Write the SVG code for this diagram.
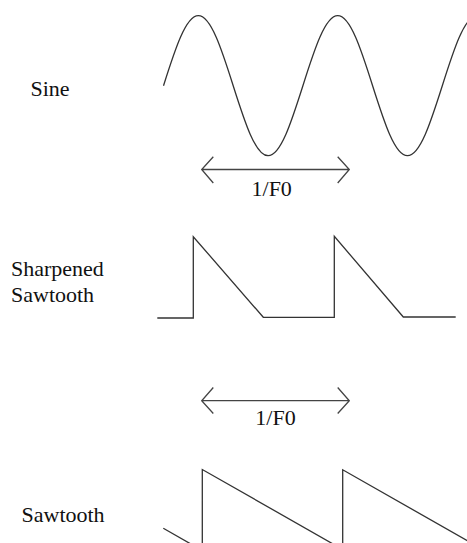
<svg xmlns="http://www.w3.org/2000/svg" width="467" height="543" viewBox="0 0 467 543">
<style>
.lbl{font-family:"Liberation Serif","Times New Roman",serif;font-size:22px;fill:#111}
.wave{fill:none;stroke:#333;stroke-width:1.3;stroke-linejoin:miter}
.arr{fill:none;stroke:#444;stroke-width:1.3}
</style>
<rect width="467" height="543" fill="#fff"/>
<g id="sine">
<text class="lbl" x="30.5" y="96">Sine</text>
<path class="wave" d="M163.5,85.7 C174.87,49.84 185.74,15.7 198.35,15.7 C210.96,15.7 221.83,49.84 233.2,85.7 C244.57,121.56 255.44,155.7 268.05,155.7 C280.66,155.7 291.53,121.56 302.9,85.7 C314.27,49.84 325.14,15.7 337.75,15.7 C350.36,15.7 361.23,49.84 372.6,85.7 C383.97,121.56 394.84,155.7 407.45,155.7 C420.06,155.7 430.93,121.56 442.3,85.7 C453.67,49.84 464.54,15.7 477.15,15.7"/>
</g>
<g id="sharpened-sawtooth">
<text class="lbl" x="11" y="276">Sharpened</text>
<text class="lbl" x="11" y="302">Sawtooth</text>
<path class="wave" d="M157.3,318 L193.3,318 L193.3,236.7 L263.3,317.3 L334.3,317.3 L334.3,236.3 L403.3,317 L455.7,317"/>
</g>
<g id="sawtooth">
<text class="lbl" x="21.5" y="522">Sawtooth</text>
<path class="wave" d="M163.3,528.3 L202.3,550.5 L202.3,469.5 L342.7,549.5 L342.7,469.8 L482,549"/>
</g>
<g id="connectors">
<path class="arr" d="M201.7,169.5 L349.3,169.5 M213.3,156.7 L201.7,169.5 L213.3,183 M337.7,156.7 L349.3,169.5 L337.7,183"/>
<path class="arr" d="M201.7,400.7 L349.3,400.7 M213.3,387.5 L201.7,400.7 L213.3,413.5 M337.7,387.5 L349.3,400.7 L337.7,413.5"/>
</g>
<g id="period-labels">
<text class="lbl" x="271.7" y="196" text-anchor="middle">1/F0</text>
<text class="lbl" x="275.5" y="425" text-anchor="middle">1/F0</text>
</g>
</svg>
